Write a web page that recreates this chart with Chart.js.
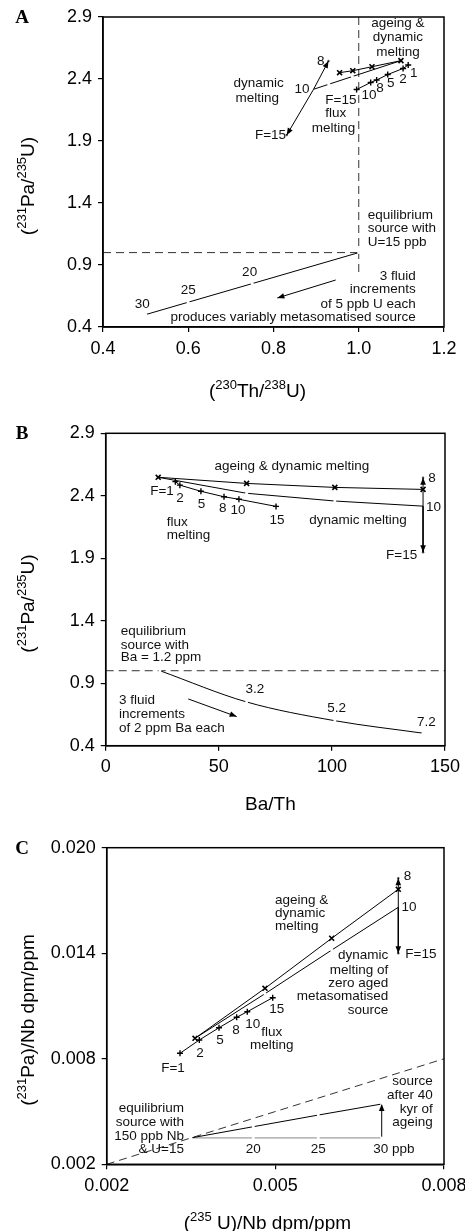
<!DOCTYPE html>
<html>
<head>
<meta charset="utf-8">
<title>Pa-Th-U models</title>
<script src="https://cdn.jsdelivr.net/npm/chart.js@4"></script>
<style>
  html, body { margin: 0; padding: 0; background: #fff; }
  #wrap { position: relative; width: 465px; height: 1231px; }
  .panel { position: absolute; left: 0; width: 465px; }
</style>
</head>
<body>
<div id="wrap">
  <div class="panel" style="top:0;height:405px"><canvas id="chartA"></canvas></div>
  <div class="panel" style="top:405px;height:410px"><canvas id="chartB"></canvas></div>
  <div class="panel" style="top:815px;height:416px"><canvas id="chartC"></canvas></div>
</div>
<script>
// --- (231Pa/235U), общие для панелей A и B ---
const ageingPa = [2.548, 2.499, 2.467, 2.451];
const dynamicPa = [2.548, 2.42, 2.358, 2.317];
const fluxPa = [2.513, 2.485, 2.436, 2.392, 2.372, 2.315];
const tipPa = [2.545, 1.948];          // концы стрелок: F=8 и F=15
const sourcePa = [1.0, 0.75, 0.6, 0.5]; // источник 15 -> 30 ppb U

// --- панель A: (230Th/238U) ---
const ageingThA = [1.099, 1.031, 0.986, 0.955];
const dynamicThA = [1.099, 0.985, 0.930, 0.894];
const fluxThA = [1.116, 1.104, 1.068, 1.042, 1.028, 0.995];
const tipThA = [0.929, 0.831];
const sourceThA = [1.0, 0.75, 0.6, 0.5];
const fluidThA = [0.946, 0.809];
const fluidPaA = [0.779, 0.634];

// --- панель B: Ba/Th ---
const ageingBaB = [23.2, 62.3, 101.3, 140.3];
const fluxBaB = [30.8, 32.8, 42.1, 52.3, 58.9, 75.3];
const tipBaB = [140.3, 140.3];
const sourceBaB = [24, 62.3, 101.3, 140.3];
const fluidBaB = [36.5, 57.9];
const fluidPaB = [0.774, 0.633];

// --- панель C: (235U)/Nb и (231Pa)/Nb ---
const ageingUC = [0.003571, 0.004816, 0.006002, 0.007187];
const ageingPaC = [0.009164, 0.012006, 0.01485, 0.017635];
const dynamicPaC = [0.009164, 0.0117, 0.01418, 0.016612];
const fluxUC = [0.003304, 0.003647, 0.003998, 0.004312, 0.004501, 0.004953];
const fluxPaC = [0.008311, 0.009067, 0.009766, 0.010358, 0.010676, 0.011472];
const tipUC = [0.007187, 0.007187];
const tipPaC = [0.01826, 0.0140];
const sourceUC = [0.0035, 0.004608, 0.005764, 0.006892];
const sourcePaC = [0.0035, 0.0035, 0.0035, 0.0035];
const agedPaC = [0.0035, 0.004138, 0.0048, 0.005428];

// --- оси ---
const xTicksA = [0.4, 0.6, 0.8, 1.0, 1.2];
const xLabelsA = ['0.4', '0.6', '0.8', '1.0', '1.2'];
const yTicksAB = [0.4, 0.9, 1.4, 1.9, 2.4, 2.9];
const yLabelsAB = ['0.4', '0.9', '1.4', '1.9', '2.4', '2.9'];
const xTicksB = [0, 50, 100, 150];
const xLabelsB = ['0', '50', '100', '150'];
const xTicksC = [0.002, 0.005, 0.008];
const xLabelsC = ['0.002', '0.005', '0.008'];
const yTicksC = [0.002, 0.008, 0.014, 0.020];
const yLabelsC = ['0.002', '0.008', '0.014', '0.020'];

const FAMILY = '"Liberation Sans", Arial, sans-serif';
const NOTE_FONT = '13.5px ' + FAMILY;

// --- стили серий ---
const line = (xs, ys, o = {}) => Object.assign({
    data: xs.map((x, i) => ({ x, y: ys[i] })),
    showLine: true, borderColor: '#000', borderWidth: 1, pointRadius: 0, tension: 0
}, o);
const crossRot = { pointStyle: 'crossRot', pointRadius: 3.5, pointBorderWidth: 1.6, pointBorderColor: '#000' };
const cross = { pointStyle: 'cross', pointRadius: 3, pointBorderWidth: 1.4, pointBorderColor: '#000' };
const gaps = r => ({ pointStyle: 'circle', pointRadius: r, pointBackgroundColor: '#fff', pointBorderWidth: 0 });
const dashed = { borderDash: [8, 5], borderColor: '#333' };
const dots = { showLine: false, pointRadius: 1.2, pointBackgroundColor: '#555', pointBorderWidth: 0 };

function axis(min, max, vals, labels, fit) {
    return {
        type: 'linear', min, max,
        afterBuildTicks: s => { s.ticks = vals.map(v => ({ value: v })); },
        afterFit: s => {
            fit(s);
            // подписи могут выходить за край, как в оригинале
            s.paddingLeft = 0; s.paddingRight = 0; s.paddingTop = 0; s.paddingBottom = 0;
        },
        ticks: {
            callback: (v, i) => labels[i], color: '#000', autoSkip: false, maxRotation: 0,
            font: { size: 18, family: FAMILY }, padding: 6
        },
        grid: { drawOnChartArea: false, drawTicks: true, tickLength: 5, color: '#000', lineWidth: 1.2 },
        border: { display: true, color: '#000', width: 1.5 }
    };
}

// подписи с верхними индексами
function rich(ctx, segs, cx, cy, rot) {
    const big = '19px ' + FAMILY, small = '13px ' + FAMILY;
    let w = 0;
    segs.forEach(([t, sup]) => { ctx.font = sup ? small : big; w += ctx.measureText(t).width; });
    ctx.save();
    ctx.translate(cx, cy);
    ctx.rotate(rot);
    ctx.textAlign = 'left';
    ctx.textBaseline = 'alphabetic';
    let px = -w / 2;
    segs.forEach(([t, sup]) => {
        ctx.font = sup ? small : big;
        ctx.fillText(t, px, sup ? -1 : 7);
        px += ctx.measureText(t).width;
    });
    ctx.restore();
}

function frame(cfg) {
    return {
        id: 'frame' + cfg.letter,
        afterDatasetsDraw(chart) {
            const { ctx, chartArea: a, scales: { x, y } } = chart;
            ctx.save();
            ctx.strokeStyle = '#000';
            ctx.lineWidth = 1.5;
            ctx.strokeRect(a.left, a.top, a.right - a.left, a.bottom - a.top);

            // наконечники стрелок
            ctx.fillStyle = '#000';
            chart.data.datasets.forEach((ds, i) => {
                if (!ds.arrow) return;
                const pts = chart.getDatasetMeta(i).data;
                const p1 = pts[pts.length - 1], p0 = pts[pts.length - 2];
                const ang = Math.atan2(p1.y - p0.y, p1.x - p0.x);
                const c = Math.cos(ang), s = Math.sin(ang);
                ctx.beginPath();
                ctx.moveTo(p1.x, p1.y);
                ctx.lineTo(p1.x - 7 * c + 2.8 * s, p1.y - 7 * s - 2.8 * c);
                ctx.lineTo(p1.x - 7 * c - 2.8 * s, p1.y - 7 * s + 2.8 * c);
                ctx.closePath();
                ctx.fill();
            });

            ctx.fillStyle = '#111';
            ctx.font = NOTE_FONT;
            ctx.textBaseline = 'middle';
            cfg.notes.forEach(([t, vx, vy, al]) => {
                ctx.textAlign = al || 'center';
                ctx.fillText(t, x.getPixelForValue(vx), y.getPixelForValue(vy));
            });

            ctx.fillStyle = '#000';
            ctx.font = 'bold 19px "Liberation Serif", "Times New Roman", serif';
            ctx.textAlign = 'center';
            ctx.fillText(cfg.letter, 22, a.top + 1);

            rich(ctx, cfg.xTitle, (a.left + a.right) / 2 + cfg.xTitleDx, a.bottom + cfg.xTitleDy, 0);
            rich(ctx, cfg.yTitle, 27, (a.top + a.bottom) / 2 + 14, -Math.PI / 2);
            ctx.restore();
        }
    };
}

function makeChart(id, cfg) {
    return new Chart(document.getElementById(id), {
        type: 'scatter',
        data: { datasets: cfg.datasets },
        options: {
            responsive: true, maintainAspectRatio: false, animation: false, devicePixelRatio: 1,
            layout: { padding: { top: cfg.padTop, right: cfg.padRight, left: 0, bottom: 0 } },
            plugins: { legend: { display: false }, tooltip: { enabled: false } },
            scales: {
                x: axis(cfg.x[0], cfg.x[1], cfg.x[2], cfg.x[3], s => { s.height = cfg.xHeight; }),
                y: axis(cfg.y[0], cfg.y[1], cfg.y[2], cfg.y[3], s => { s.width = cfg.yWidth; })
            }
        },
        plugins: [frame(cfg)]
    });
}

const paTitle = [['(', 0], ['231', 1], ['Pa/', 0], ['235', 1], ['U)', 0]];

// --- A ---
makeChart('chartA', {
    letter: 'A', padTop: 17, padRight: 21, yWidth: 103, xHeight: 78, xTitleDx: -16, xTitleDy: 63,
    x: [0.4, 1.2, xTicksA, xLabelsA], y: [0.4, 2.9, yTicksAB, yLabelsAB],
    xTitle: [['(', 0], ['230', 1], ['Th/', 0], ['238', 1], ['U)', 0]], yTitle: paTitle,
    datasets: [
        line(ageingThA, ageingPa, crossRot),
        line(fluxThA, fluxPa, cross),
        line(dynamicThA, dynamicPa, gaps([0, 1.5, 1.5, 0])),
        line([dynamicThA[3], tipThA[0]], [dynamicPa[3], tipPa[0]], { arrow: true }),
        line([dynamicThA[3], tipThA[1]], [dynamicPa[3], tipPa[1]], { arrow: true }),
        line(tipThA, tipPa, dots),
        line(sourceThA, sourcePa, gaps(1.5)),
        line(fluidThA, fluidPaA, { arrow: true }),
        line([0.4, 1.0], [1.0, 1.0], dashed),
        line([1.0, 1.0], [2.9, 0.82], dashed)
    ],
    notes: [
        ['ageing &', 1.092, 2.852], ['dynamic', 1.092, 2.739], ['melting', 1.092, 2.618],
        ['8', 0.911, 2.545], ['dynamic', 0.765, 2.368], ['melting', 0.762, 2.247],
        ['10', 0.867, 2.317], ['F=15', 0.793, 1.948],
        ['F=15', 0.958, 2.231], ['flux', 0.946, 2.126], ['melting', 0.941, 2.005],
        ['1', 1.129, 2.448], ['2', 1.104, 2.40], ['5', 1.075, 2.368], ['8', 1.050, 2.327], ['10', 1.024, 2.271],
        ['equilibrium', 1.021, 1.303, 'left'], ['source with', 1.021, 1.198, 'left'], ['U=15 ppb', 1.021, 1.085, 'left'],
        ['20', 0.744, 0.844], ['25', 0.6, 0.698], ['30', 0.492, 0.585],
        ['3 fluid', 1.134, 0.811, 'right'], ['increments', 1.134, 0.706, 'right'],
        ['of 5 ppb U each', 1.134, 0.585, 'right'], ['produces variably metasomatised source', 1.134, 0.481, 'right']
    ]
});

// --- B ---
makeChart('chartB', {
    letter: 'B', padTop: 28.3, padRight: 20, yWidth: 105.7, xHeight: 69.3, xTitleDx: -5, xTitleDy: 57,
    x: [0, 150, xTicksB, xLabelsB], y: [0.4, 2.9, yTicksAB, yLabelsAB],
    xTitle: [['Ba/Th', 0]], yTitle: paTitle,
    datasets: [
        line(ageingBaB, ageingPa, crossRot),
        line(fluxBaB, fluxPa, cross),
        line(ageingBaB, dynamicPa, gaps([0, 1.5, 1.5, 0])),
        line([ageingBaB[3], tipBaB[0]], [dynamicPa[3], tipPa[0]], { arrow: true }),
        line([ageingBaB[3], tipBaB[1]], [dynamicPa[3], tipPa[1]], { arrow: true }),
        line(tipBaB, tipPa, dots),
        line(sourceBaB, sourcePa, Object.assign(gaps(1.5), { cubicInterpolationMode: 'monotone' })),
        line(fluidBaB, fluidPaB, { arrow: true }),
        line([0, 150], [1.0, 1.0], dashed)
    ],
    notes: [
        ['ageing & dynamic melting', 82.3, 2.639], ['8', 144.2, 2.542], ['10', 144.9, 2.31],
        ['dynamic melting', 111.5, 2.201], ['F=15', 130.8, 1.921],
        ['F=1', 24.9, 2.433], ['2', 32.8, 2.382], ['5', 42.4, 2.334], ['8', 51.8, 2.302],
        ['10', 58.5, 2.286], ['15', 75.7, 2.201],
        ['flux', 27.0, 2.185, 'left'], ['melting', 27.0, 2.086, 'left'],
        ['equilibrium', 6.6, 1.313, 'left'], ['source with', 6.6, 1.206, 'left'], ['Ba = 1.2 ppm', 6.6, 1.105, 'left'],
        ['3 fluid', 5.9, 0.766, 'left'], ['increments', 5.9, 0.652, 'left'], ['of 2 ppm Ba each', 5.9, 0.54, 'left'],
        ['3.2', 66, 0.852], ['5.2', 102.1, 0.7], ['7.2', 141.8, 0.585]
    ]
});

// --- C ---
makeChart('chartC', {
    letter: 'C', padTop: 32.7, padRight: 21, yWidth: 106.7, xHeight: 66.7, xTitleDx: -8, xTitleDy: 57.4,
    x: [0.002, 0.008, xTicksC, xLabelsC], y: [0.002, 0.020, yTicksC, yLabelsC],
    xTitle: [['(', 0], ['235', 1], [' U)/Nb dpm/ppm', 0]],
    yTitle: [['(', 0], ['231', 1], ['Pa)/Nb dpm/ppm', 0]],
    datasets: [
        line(ageingUC, ageingPaC, crossRot),
        line(fluxUC, fluxPaC, cross),
        line(ageingUC, dynamicPaC, gaps([0, 1.5, 1.5, 0])),
        line([ageingUC[3], tipUC[0]], [dynamicPaC[3], tipPaC[0]], { arrow: true }),
        line([ageingUC[3], tipUC[1]], [dynamicPaC[3], tipPaC[1]], { arrow: true }),
        line(tipUC, tipPaC, dots),
        line(sourceUC, agedPaC, gaps(1.5)),
        line(sourceUC, sourcePaC, Object.assign(gaps(1.5), { borderColor: '#888' })),
        line([sourceUC[3], sourceUC[3]], [sourcePaC[3], agedPaC[3]], { arrow: true }),
        line([0.002, 0.008], [0.002, 0.008], dashed)
    ],
    notes: [
        ['8', 0.007349, 0.018391], ['10', 0.007377, 0.016629], ['F=15', 0.007588, 0.013956],
        ['ageing &', 0.004994, 0.017027, 'left'], ['dynamic', 0.004994, 0.01627, 'left'], ['melting', 0.004994, 0.015509, 'left'],
        ['dynamic', 0.007009, 0.0139, 'right'], ['melting of', 0.007009, 0.013047, 'right'],
        ['zero aged', 0.007009, 0.012291, 'right'], ['metasomatised', 0.007009, 0.011529, 'right'],
        ['source', 0.007009, 0.010773, 'right'],
        ['15', 0.005024, 0.010813], ['10', 0.004597, 0.009977], ['8', 0.0043, 0.009596],
        ['5', 0.004015, 0.009027], ['2', 0.00366, 0.008311], ['F=1', 0.00318, 0.007458],
        ['flux', 0.004935, 0.009505], ['melting', 0.004935, 0.008743],
        ['equilibrium', 0.003375, 0.0052, 'right'], ['source with', 0.003375, 0.004365, 'right'],
        ['150 ppb Nb', 0.003375, 0.003569, 'right'], ['& U=15', 0.003375, 0.002853, 'right'],
        ['source', 0.0078, 0.006696, 'right'], ['after 40', 0.0078, 0.00594, 'right'],
        ['kyr of', 0.0078, 0.005127, 'right'], ['ageing', 0.0078, 0.004365, 'right'],
        ['20', 0.004608, 0.00287], ['25', 0.005764, 0.00287], ['30 ppb', 0.00711, 0.00287]
    ]
});
</script>
</body>
</html>
